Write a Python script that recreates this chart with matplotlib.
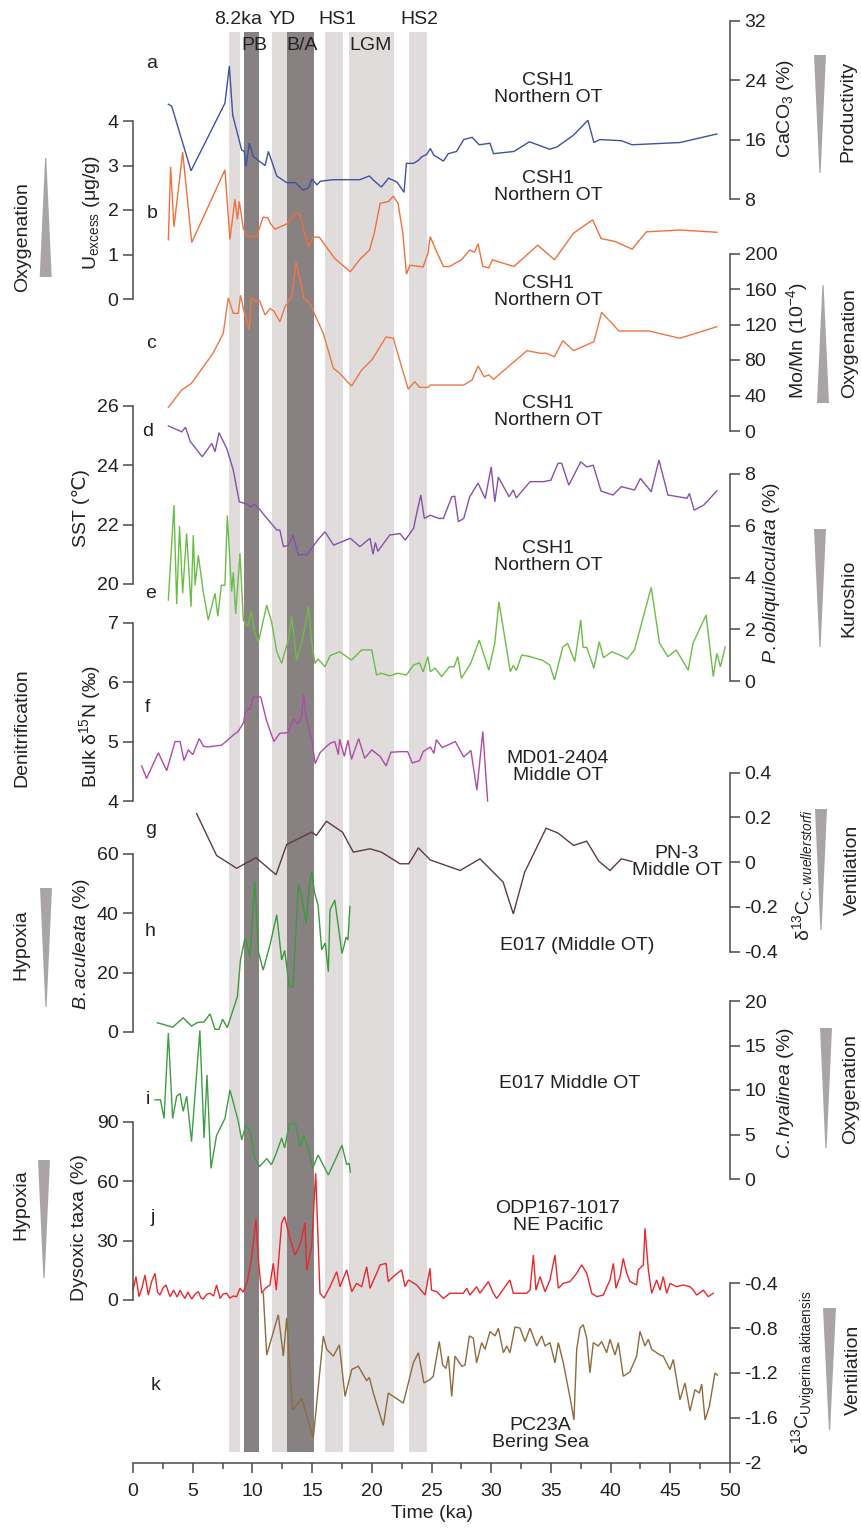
import numpy as np
import matplotlib
matplotlib.use('Agg')
import matplotlib.pyplot as plt
from matplotlib.patches import Polygon
from matplotlib.ticker import FuncFormatter, MultipleLocator, FixedLocator

plt.rcParams['font.family'] = ['Liberation Sans', 'DejaVu Sans']
plt.rcParams['axes.unicode_minus'] = False
plt.rcParams['mathtext.fontset'] = 'custom'
plt.rcParams['mathtext.rm'] = 'Liberation Sans'
plt.rcParams['mathtext.it'] = 'Liberation Sans:italic'
plt.rcParams['mathtext.bf'] = 'Liberation Sans:bold'

# ---------------- data ----------------
# event bands (ka)
band_light = [(8.04, 8.96), (11.67, 12.92), (16.08, 17.56), (18.1, 21.88), (23.15, 24.65)]
band_dark = [(9.27, 10.55), (12.92, 15.16)]
band_top_labels = ['8.2ka', 'YD', 'HS1', 'HS2']
band_top_x = [8.8, 12.5, 17.1, 24.0]
band_low_labels = ['PB', 'B/A', 'LGM']
band_low_x = [10.2, 14.2, 19.9]

# a: CaCO3 (%)
a_t = [2.96, 3.24, 4.86, 7.7, 8.07, 8.35, 9.1, 9.32, 9.46, 9.74, 10.08, 11.06, 11.34, 12.04, 12.87, 13.6,
       14.26, 14.7, 15.0, 15.4, 15.7, 16.8, 19.0, 19.8, 20.1, 20.8, 21.4, 22.1, 22.7, 22.9, 23.5, 23.9, 24.2,
       24.6, 24.9, 25.2, 26.0, 26.4, 27.1, 27.7, 28.4, 29.0, 29.9, 30.2, 31.9, 33.2, 34.9, 35.5, 36.9, 38.1,
       38.6, 39.1, 40.9, 41.8, 45.8, 48.9]
a_v = [20.75, 20.5, 11.8, 20.9, 25.9, 19.3, 14.6, 14.4, 12.35, 15.5, 13.7, 12.5, 14.4, 11.1, 10.2, 10.2,
       9.2, 9.5, 10.7, 9.9, 10.4, 10.6, 10.6, 11.1, 10.6, 9.6, 10.8, 10.3, 8.9, 12.8, 12.8, 13.2, 13.7,
       14.0, 14.8, 13.9, 13.1, 14.1, 14.4, 16.0, 16.3, 15.3, 15.5, 14.1, 14.4, 15.7, 14.7, 15.0, 16.6, 18.6,
       15.6, 16.0, 15.85, 15.3, 15.6, 16.75]

# b: U excess (ug/g)
b_t = [2.96, 3.15, 3.43, 4.16, 4.92, 7.7, 8.12, 8.54, 8.74, 8.9, 9.24, 9.52, 10.35, 10.9, 11.3, 11.5, 11.9,
       12.9, 13.57, 14.0, 14.3, 14.7, 15.1, 15.6, 16.9, 18.2, 19.0, 19.8, 20.2, 20.7, 21.4, 21.8, 22.2, 22.6,
       22.9, 23.2, 24.3, 24.7, 24.9, 25.3, 26.0, 26.5, 27.5, 28.2, 28.6, 28.9, 29.3, 29.8, 30.1, 31.9, 33.9,
       35.3, 36.9, 38.5, 39.2, 40.4, 41.8, 43.0, 45.8, 48.9]
b_v = [1.33, 2.97, 1.62, 3.30, 1.27, 2.9, 1.34, 2.24, 1.79, 2.19, 1.59, 1.42, 1.40, 1.84, 1.82, 1.7, 1.57,
       1.69, 1.93, 1.89, 1.55, 1.18, 1.39, 1.39, 0.91, 0.61, 0.89, 1.1, 1.47, 2.15, 2.19, 2.31, 2.15, 1.47,
       0.56, 0.76, 0.72, 1.03, 1.40, 1.14, 0.73, 0.73, 0.88, 1.10, 1.05, 1.24, 0.73, 0.70, 0.88, 0.73, 1.21,
       0.88, 1.48, 1.78, 1.36, 1.29, 1.12, 1.51, 1.55, 1.50]

# c: Mo/Mn (10^-4)
c_t = [2.96, 4.08, 4.9, 6.7, 7.56, 7.98, 8.4, 8.82, 9.0, 9.3, 9.74, 9.9, 10.3, 10.6, 11.06, 11.47, 11.8,
       12.3, 12.73, 13.3, 13.65, 14.0, 14.3, 14.55, 14.97, 15.24, 15.94, 16.78, 17.3, 18.3, 19.15, 20.0,
       21.2, 21.8, 23.05, 23.6, 24.0, 24.7, 24.9, 27.7, 28.4, 28.9, 29.4, 29.8, 30.2, 33.0, 34.1, 34.6,
       35.3, 36.0, 36.9, 38.6, 39.25, 40.7, 43.2, 45.8, 48.9]
c_v = [26.7, 46.2, 53.7, 87.6, 110, 150, 132.6, 132.6, 153, 134.5, 113.8, 150, 146, 147, 130.7, 138, 135,
       123, 140, 151, 190.8, 170, 150, 147.6, 140, 130.7, 110, 70.7, 65, 50.7, 68.7, 80,
       106, 104.5, 47, 55.6, 49.2, 49.2, 51.8, 51.8, 57.5, 73.3, 61.2, 63.1, 58.3, 90.5, 87.6, 87.6,
       83.7, 101.8, 90.5, 100.7, 133.8, 112.7, 112.7, 104.5, 117.5]

# d: SST (C)
d_t = [2.96, 4.08, 4.4, 4.8, 5.8, 6.6, 6.87, 7.2, 7.85, 8.4, 8.9, 9.5, 9.9, 10.15, 10.64, 11.06, 12.04, 12.3,
       12.6, 13.0, 13.4, 13.85, 14.3, 14.55, 14.96, 15.5, 16.08, 16.8, 18.2, 19.0, 19.85, 20.1, 20.3, 20.5,
       21.5, 22.36, 22.8, 23.5, 23.76, 24.1, 24.4, 24.9, 25.6, 26.0, 26.7, 26.95, 27.25, 27.7, 28.2, 28.9,
       29.5, 30.0, 30.3, 30.6, 31.5, 31.85, 32.1, 33.25, 34.4, 35.0, 35.6, 35.9, 36.5, 37.5, 38.0, 38.55,
       39.2, 40.2, 40.9, 42.0, 42.5, 43.4, 44.05, 44.8, 46.4, 46.6, 47.0, 47.8, 48.9]
d_v = [25.33, 25.13, 25.28, 24.8, 24.29, 24.74, 24.46, 25.1, 24.57, 23.84, 22.77, 22.7, 22.6, 22.7, 22.5,
       22.29, 21.82, 21.82, 21.26, 21.3, 21.65, 20.97, 21.0, 20.97, 21.2, 21.5, 21.76, 21.31, 21.54, 21.26,
       21.54, 21.0, 21.4, 21.1, 21.65, 21.7, 21.48, 21.88, 22.38, 23.0, 22.21, 22.32, 22.21, 22.21, 22.94,
       22.96, 22.1, 22.21, 22.94, 23.4, 22.88, 23.95, 22.77, 23.6, 22.94, 23.17, 22.9, 23.45, 23.45, 23.5,
       24.07, 24.07, 23.33, 24.12, 23.95, 24.0, 23.13, 23.0, 23.28, 23.17, 23.56, 23.11, 24.18, 23.0,
       22.89, 23.05, 22.49, 22.66, 23.14]

# e: P. obliquiloculata (%)
e_t = [2.96, 3.43, 3.66, 3.9, 4.16, 4.49, 4.86, 5.05, 5.2, 5.47, 5.9, 6.3, 6.87, 7.1, 7.4, 7.7, 7.9, 8.26,
       8.4, 8.6, 8.96, 9.24, 9.6, 9.9, 10.2, 10.5, 11.2, 11.6, 12.04, 12.45, 13.0, 13.3, 13.7, 14.2, 14.7,
       14.96, 15.24, 15.5, 16.08, 16.5, 17.3, 18.3, 19.15, 20.0, 20.4, 20.8, 21.5, 22.2, 22.9, 23.5, 24.0,
       24.3, 24.7, 24.9, 25.3, 25.85, 26.5, 26.9, 27.2, 27.5, 28.3, 29.0, 29.8, 30.3, 30.65, 31.6, 31.85,
       32.1, 32.55, 33.2, 34.3, 34.9, 35.3, 36.0, 36.4, 37.0, 37.5, 37.7, 38.0, 38.3, 38.6, 39.05, 39.4,
       40.1, 40.8, 41.4, 42.0, 43.4, 44.1, 44.8, 45.5, 46.5, 46.9, 48.0, 48.6, 48.9, 49.2, 49.6]
e_v = [3.13, 6.8, 2.97, 5.98, 3.39, 5.7, 2.87, 5.64, 3.7, 4.86, 3.4, 2.36, 3.39, 2.5, 3.7, 3.7, 6.4, 3.45,
       4.2, 2.6, 4.93, 2.36, 2.1, 2.7, 1.84, 1.5, 2.93, 2.3, 1.13, 0.68, 1.58, 2.5, 0.81, 1.6, 2.87,
       1.5, 0.68, 0.85, 0.55, 0.98, 1.13, 0.81, 1.2, 1.2, 0.23, 0.3, 0.2, 0.3, 0.23, 0.62, 0.7,
       0.35, 0.94, 0.36, 0.5, 0.17, 0.55, 0.55, 0.94, 0.1, 0.7, 1.58, 0.42, 1.46, 3.06, 0.36, 0.6,
       0.4, 1.0, 0.95, 0.8, 0.62, 0.04, 1.32, 1.45, 0.75, 2.36, 1.3, 1.3, 0.9, 0.49, 1.52, 0.9,
       1.13, 1.0, 0.85, 1.2, 3.62, 1.46, 0.94, 1.2, 0.42, 1.46, 2.55, 0.17, 1.07, 0.55, 1.32]

# f: bulk d15N (permil)
f_t = [0.73, 1.14, 2.12, 2.82, 3.52, 3.94, 4.27, 4.63, 5.0, 5.55, 5.9, 6.3, 7.43, 8.4, 8.8, 9.24, 9.46, 9.8,
       10.08, 10.7, 11.17, 11.8, 12.3, 13.0, 13.43, 13.8, 14.1, 14.3, 14.5, 14.96, 15.26, 15.66, 16.1, 16.5,
       16.9, 17.2, 17.3, 17.7, 18.0, 18.3, 18.9, 19.4, 20.0, 20.7, 21.2, 21.6, 22.36, 23.0, 23.4, 24.0,
       24.3, 24.9, 25.2, 25.4, 25.9, 27.0, 27.7, 28.3, 28.8, 29.3, 29.7]
f_v = [4.59, 4.38, 4.81, 4.51, 5.0, 5.0, 4.68, 4.86, 4.78, 5.05, 4.92, 4.91, 4.94, 5.11, 5.17, 5.31, 5.53, 5.55,
       5.75, 5.75, 5.36, 5.0, 5.14, 5.15, 5.39, 5.3, 5.4, 5.8, 5.4, 5.03, 4.63, 4.81, 4.9, 4.97,
       5.0, 4.78, 5.04, 4.75, 5.02, 4.7, 5.05, 4.72, 4.86, 4.75, 4.59, 4.82, 4.83, 4.83, 4.64, 4.68,
       4.83, 4.91, 4.8, 5.03, 4.9, 5.0, 4.74, 4.85, 4.18, 5.17, 4.0]

# g: d13C C. wuellerstorfi (PN-3)
g_t = [5.33, 7.0, 8.68, 10.3, 11.98, 12.87, 14.95, 15.36, 16.2, 17.55, 18.45, 19.85, 20.8, 22.36, 23.1, 23.9,
       24.9, 27.4, 29.06, 31.0, 31.85, 32.8, 34.6, 35.6, 36.9, 38.0, 39.0, 39.95, 40.9, 41.8]
g_v = [0.217, 0.03, -0.027, 0.02, -0.056, 0.079, 0.134, 0.12, 0.183, 0.134, 0.045, 0.06, 0.045, -0.007, -0.007,
       0.064, 0.01, -0.037, 0.015, -0.089, -0.231, -0.045, 0.152, 0.13, 0.075, 0.094, 0.005, -0.037, 0.015, 0.003]

# h: B. aculeata (%)
h_t = [2.04, 2.6, 3.32, 4.2, 4.9, 5.4, 5.95, 6.45, 6.87, 7.2, 7.5, 7.9, 8.74, 9.0, 9.38, 9.8, 10.2, 10.5,
       10.9, 11.47, 12.04, 12.45, 12.7, 13.1, 13.4, 13.85, 14.1, 14.5, 14.8, 14.96, 15.2, 15.5, 15.8, 16.1,
       16.36, 16.5, 16.9, 17.5, 17.7, 17.85, 18.0, 18.17]
h_v = [3.1, 2.5, 1.6, 4.8, 2.0, 3.2, 3.4, 6.1, 0.9, 0.9, 4.3, 1.5, 11.9, 24.3, 31.6, 25.4, 50.7, 27.1,
       20.9, 29.3, 39.5, 24.3, 27.5, 15.3, 15.3, 49.6, 46.0, 36.7, 50.2, 54.1, 47.0, 42.8, 27.7, 30.0,
       20.3, 41.1, 44.5, 26.5, 29.5, 32.0, 31.0, 42.3]

# i: C. hyalinea (%)
i_t = [1.84, 2.3, 2.6, 2.96, 3.32, 3.66, 3.94, 4.2, 4.5, 4.9, 5.6, 5.95, 6.2, 6.53, 7.0, 7.7, 8.12, 8.8, 9.1,
       9.46, 9.8, 10.2, 10.6, 11.2, 11.6, 12.0, 12.45, 12.7, 13.1, 13.6, 14.0, 14.3, 14.7, 15.05, 15.5, 16.36,
       17.5, 17.9, 18.1, 18.2]
i_v = [8.9, 8.9, 6.8, 16.4, 6.8, 9.3, 9.6, 7.6, 9.3, 4.2, 16.7, 4.6, 11.7, 1.2, 4.9, 6.8, 10.0, 6.6, 4.4,
       6.1, 5.4, 2.3, 1.4, 2.3, 1.6, 2.9, 4.6, 3.5, 6.2, 6.2, 3.6, 4.9, 3.2, 1.2, 2.7, 0.45,
       3.8, 1.6, 1.8, 0.8]

# j: dysoxic taxa (%) ODP167-1017
j_t = [0.0, 0.25, 0.5, 0.75, 1.0, 1.28, 1.56, 1.84, 2.05, 2.26, 2.5, 2.76, 3.1, 3.4, 3.7, 3.94, 4.16, 4.36,
       4.6, 4.92, 5.2, 5.47, 5.7, 5.89, 6.2, 6.45, 6.75, 7.0, 7.29, 7.55, 7.85, 8.1, 8.4, 8.68, 8.96,
       9.24, 9.6, 9.9, 10.1, 10.3, 10.45, 10.58, 10.78, 11.1, 11.47, 11.75, 12.0, 12.45, 12.7, 13.1, 13.57,
       14.0, 14.4, 14.55, 14.96, 15.3, 15.66, 16.0, 16.5, 17.06, 17.34, 17.9, 18.32, 18.73, 19.15,
       19.57, 19.85, 20.41, 20.69, 21.19, 21.38, 21.8, 22.5, 22.78, 23.06, 23.76, 24.46, 24.87, 25.0, 25.44,
       25.99, 26.55, 27.66, 27.95, 28.22, 28.78, 29.06, 29.76, 30.18, 30.46, 31.57, 31.85, 32.97, 33.25,
       33.53, 33.75, 34.09, 34.51, 34.92, 35.34, 35.62, 36.04, 36.6, 37.16, 37.58, 38.0, 38.42, 38.84, 39.39,
       39.95, 40.23, 40.45, 40.79, 41.06, 41.35, 41.62, 42.18, 42.32, 42.74, 42.88, 43.16, 43.44, 43.86,
       44.14, 44.41, 44.7, 44.97, 45.53, 46.09, 46.65, 46.93, 47.21, 47.77, 48.18, 48.6]
j_v = [5, 11.8, 1.7, 6, 12.6, 2.5, 9.3, 13.5, 4, 2.5, 6, 7.6, 1.7, 5, 1.5, 5, 2.5, 0.8,
       4, 0.5, 3, 4.2, 1, 0.5, 3, 3.4, 2, 7.6, 0.8, 3, 3.4, 1, 2, 1.7, 5.9,
       4, 10, 20, 30, 41, 25, 15, 3.5, 6, 7.6, 18.5, 5, 39, 42, 32, 22.7,
       28, 39, 15, 27, 64, 3.5, 1, 6.7, 14.3, 6.7, 15.2, 4.2, 8.4, 6.7,
       16.8, 5.9, 13.5, 17.7, 18.5, 9.3, 11.8, 15.2, 6.7, 10.1, 7.6, 2.5, 16, 5, 4.2,
       0.8, 3.4, 3.4, 5.9, 2.5, 6.7, 3.4, 9.3, 3.4, 0.8, 10.1, 3.4, 3.4, 5,
       22.7, 5, 11.8, 4.2, 10.1, 22.7, 5.9, 8.4, 9.3, 13.5, 17.7, 13.5, 3.4, 1.7, 2.5,
       10.1, 18.5, 5.9, 11.8, 21, 13.5, 9.3, 7.6, 15.2, 17.7, 36.2, 15.2, 3.4, 10.1,
       5, 11.8, 3.4, 8.4, 6.7, 7.6, 6.7, 5, 2.5, 5, 1.7, 3.4]

# k: d13C Uvigerina akitaensis (PC23A)
k_t = [10.91, 11.2, 12.17, 12.59, 12.87, 13.37, 14.13, 15.1, 15.94, 16.22, 16.78, 17.28, 17.76, 18.32, 18.87,
       19.57, 19.79, 20.13, 20.96, 21.38, 22.64, 23.48, 23.9, 24.37, 24.87, 25.15, 25.65, 25.94, 26.21, 26.41,
       26.69, 26.97, 27.53, 27.81, 28.17, 28.5, 28.78, 29.2, 29.48, 29.9, 30.32, 30.6, 31.02, 31.3, 31.57,
       31.99, 32.41, 32.83, 33.25, 33.81, 34.23, 34.51, 34.92, 35.34, 35.62, 36.04, 36.6, 36.93, 37.16, 37.44,
       37.71, 38.0, 38.27, 38.55, 38.97, 39.25, 39.67, 39.95, 40.37, 40.65, 41.06, 41.62, 42.18, 42.46, 42.88,
       43.16, 43.44, 44.14, 44.41, 44.97, 45.25, 45.81, 46.23, 46.65, 47.07, 47.43, 47.63, 47.91, 48.27,
       48.74, 48.94]
k_v = [-0.49, -1.04, -0.68, -1.05, -0.71, -1.53, -1.43, -1.78, -0.87, -0.99, -1.05, -0.95, -1.41, -1.17, -1.14,
       -1.27, -1.24, -1.38, -1.67, -1.38, -1.47, -1.11, -1.02, -1.29, -1.26, -1.23, -0.92, -1.13, -1.16, -1.05,
       -1.41, -1.05, -1.14, -1.13, -0.87, -0.89, -1.11, -0.93, -0.99, -0.83, -0.87, -0.8, -1.02, -0.96, -1.02,
       -0.79, -0.8, -0.92, -0.8, -0.96, -0.87, -0.96, -0.93, -1.11, -0.93, -1.11, -1.42, -1.62, -0.99, -0.8,
       -0.77, -0.89, -1.2, -0.93, -0.96, -0.92, -1.02, -0.9, -1.04, -0.93, -1.23, -1.19, -1.05, -0.83, -0.96,
       -0.9, -0.99, -1.04, -1.05, -1.17, -1.08, -1.44, -1.29, -1.54, -1.35, -1.38, -1.3, -1.62, -1.5,
       -1.2, -1.22]

x_ticks = [0, 5, 10, 15, 20, 25, 30, 35, 40, 45, 50]

# ---------------- figure ----------------
W, H = 861, 1528
fig = plt.figure(figsize=(W / 100, H / 100), dpi=100)
X0, X1 = 133, 730
TXT = '#222222'
SPC = '#4a4a4a'
FS = 14


def fx(x):
    return x / W


def fy(y):
    return 1 - y / H


def ftext(x, y, s, **kw):
    kw.setdefault('fontsize', FS)
    kw.setdefault('color', TXT)
    kw.setdefault('ha', 'center')
    kw.setdefault('va', 'center')
    fig.text(fx(x), fy(y), s, **kw)


# background bands
bg = fig.add_axes([fx(X0), fy(1452), fx(X1) - fx(X0), (1452 - 32) / H])
bg.set_xlim(0, 50)
bg.set_ylim(0, 1)
bg.axis('off')
for s0, s1 in band_light:
    bg.axvspan(s0, s1, color='#e0dcdc', lw=0)
for s0, s1 in band_dark:
    bg.axvspan(s0, s1, color='#878182', lw=0)

lab_ax = fig.add_axes([fx(X0), 0, fx(X1) - fx(X0), 1])
lab_ax.set_xlim(0, 50)
lab_ax.set_ylim(H, 0)
lab_ax.axis('off')
for lbl, xx in zip(band_top_labels, band_top_x):
    lab_ax.text(xx, 20, lbl, fontsize=FS, color=TXT, ha='center', va='center')
for lbl, xx in zip(band_low_labels, band_low_x):
    lab_ax.text(xx, 46, lbl, fontsize=FS, color=TXT, ha='center', va='center')


def fmt(v, p):
    return '{:g}'.format(round(v, 6))


def panel(top, bottom, ylim, ticks, side, t, v, color, xaxis=False):
    ax = fig.add_axes([fx(X0), fy(bottom), fx(X1) - fx(X0), (bottom - top) / H])
    ax.patch.set_alpha(0)
    ax.set_xlim(0, 50)
    ax.set_ylim(*ylim)
    for sp in ax.spines.values():
        sp.set_visible(False)
        sp.set_color(SPC)
        sp.set_linewidth(1.1)
    ax.spines[side].set_visible(True)
    ax.yaxis.set_ticks_position(side)
    ax.yaxis.set_label_position(side)
    ax.yaxis.set_major_locator(FixedLocator(ticks))
    ax.yaxis.set_major_formatter(FuncFormatter(fmt))
    ax.tick_params(axis='y', direction='out', length=7.5, width=1.1, color=SPC,
                   labelsize=FS, labelcolor=TXT, pad=3)
    if xaxis:
        ax.spines['bottom'].set_visible(True)
        ax.set_xticks(x_ticks)
        ax.xaxis.set_minor_locator(MultipleLocator(2.5))
        ax.tick_params(axis='x', which='major', direction='out', length=7.5, width=1.1, color=SPC,
                       labelsize=FS, labelcolor=TXT, pad=7)
        ax.tick_params(axis='x', which='minor', direction='out', length=4, width=1.1, color=SPC)
    else:
        ax.set_xticks([])
    ax.plot(t, v, color=color, lw=1.0, clip_on=False, solid_joinstyle='miter')
    return ax


panel(20.7, 199, (8, 32), [8, 16, 24, 32], 'right', a_t, a_v, '#3f51a3')
panel(121, 299, (0, 4), [0, 1, 2, 3, 4], 'left', b_t, b_v, '#f0703c')
panel(253.5, 431, (0, 200), [0, 40, 80, 120, 160, 200], 'right', c_t, c_v, '#ef7645')
panel(406, 584, (20, 26), [20, 22, 24, 26], 'left', d_t, d_v, '#8850ad')
panel(474, 681, (0, 8), [0, 2, 4, 6, 8], 'right', e_t, e_v, '#6cbd48')
panel(622.7, 801, (4, 7), [4, 5, 6, 7], 'left', f_t, f_v, '#b04aa8')
panel(772.7, 951.7, (-0.4, 0.4), [-0.4, -0.2, 0, 0.2, 0.4], 'right', g_t, g_v, '#5e3b47')
panel(854, 1032, (0, 60), [0, 20, 40, 60], 'left', h_t, h_v, '#3b9b3c')
panel(1001, 1179, (0, 20), [0, 5, 10, 15, 20], 'right', i_t, i_v, '#3f9d45')
panel(1121.7, 1300, (0, 90), [0, 30, 60, 90], 'left', j_t, j_v, '#e8282c')
kax = panel(1283.3, 1462.5, (-2, -0.4), [-2, -1.6, -1.2, -0.8, -0.4], 'right', k_t, k_v, '#8d6b3d', xaxis=True)

ftext(432, 1514, 'Time (ka)')

# axis labels
ftext(91, 213, r'U$_{\rm excess}$ (μg/g)', rotation=90)
ftext(81, 508, 'SST (℃)', rotation=90)
ftext(90, 727, r'Bulk δ$^{15}$N (‰)', rotation=90)
ftext(81, 944, r'$\mathit{B.aculeata}$ (%)', rotation=90)
ftext(80, 1228, 'Dysoxic taxa (%)', rotation=90)
ftext(786, 109, r'CaCO$_3$ (%)', rotation=90)
ftext(797, 341, r'Mo/Mn (10$^{-4}$)', rotation=90)
ftext(772, 573, r'$\mathit{P.obliquiloculata}$ (%)', rotation=90)
ftext(803, 875, r'δ$^{13}$C$_{\mathit{C.wuellerstorfi}}$', rotation=90)
ftext(785, 1093, r'$\mathit{C.hyalinea}$ (%)', rotation=90)
ftext(804, 1373, r'δ$^{13}$C$_{\rm Uvigerina\ akitaensis}$', rotation=90)

# panel letters
for L, (x, y) in zip('abcdefghijk', [(152, 64), (152, 213), (151, 343), (148, 432), (151, 593),
                                     (147, 707), (151, 830), (150, 931), (148, 1100), (153, 1217),
                                     (156, 1385)]):
    ftext(x, y, L)

# site labels
for s, (x, y) in [('CSH1\nNorthern OT', (548, 89)), ('CSH1\nNorthern OT', (548, 187)),
                  ('CSH1\nNorthern OT', (548, 292)), ('CSH1\nNorthern OT', (548, 412)),
                  ('CSH1\nNorthern OT', (548, 557)), ('MD01-2404\nMiddle OT', (558, 767)),
                  ('PN-3\nMiddle OT', (677, 862)), ('E017 (Middle OT)', (577, 945)),
                  ('E017 Middle OT', (570, 1083)), ('ODP167-1017\nNE Pacific', (558, 1217)),
                  ('PC23A\nBering Sea', (540, 1434))]:
    ftext(x, y, s, linespacing=1.05)

# side indicators
for s, (x, y) in [('Oxygenation', (23, 237)), ('Denitrification', (22, 728)),
                  ('Hypoxia', (21, 945)), ('Hypoxia', (21, 1205)),
                  ('Productivity', (848, 111)), ('Oxygenation', (850, 343)),
                  ('Kuroshio', (849, 598)), ('Ventilation', (852, 870)),
                  ('Oxygenation', (851, 1089)), ('Ventilation', (853, 1370))]:
    ftext(x, y, s, rotation=90)

TRI = '#a9a5a5'
tris = [  # (cx, half width, wide-end y, tip y)
    (45.7, 6, 277, 158),
    (46, 6, 888, 1007),
    (44, 6, 1160, 1278),
    (820, 6, 55, 173),
    (823, 6, 403, 285),
    (820, 6, 529, 647),
    (821, 6, 809, 930),
    (826, 6, 1028, 1148),
    (829.5, 6.5, 1308, 1430),
]
for cx, hw, yw, yt in tris:
    pts = [(fx(cx - hw), fy(yw)), (fx(cx + hw), fy(yw)), (fx(cx + 0.6), fy(yt)), (fx(cx - 0.6), fy(yt))]
    fig.patches.append(Polygon(pts, closed=True, transform=fig.transFigure, facecolor=TRI,
                               edgecolor='none', figure=fig))

fig.savefig('out.png', dpi=100)
